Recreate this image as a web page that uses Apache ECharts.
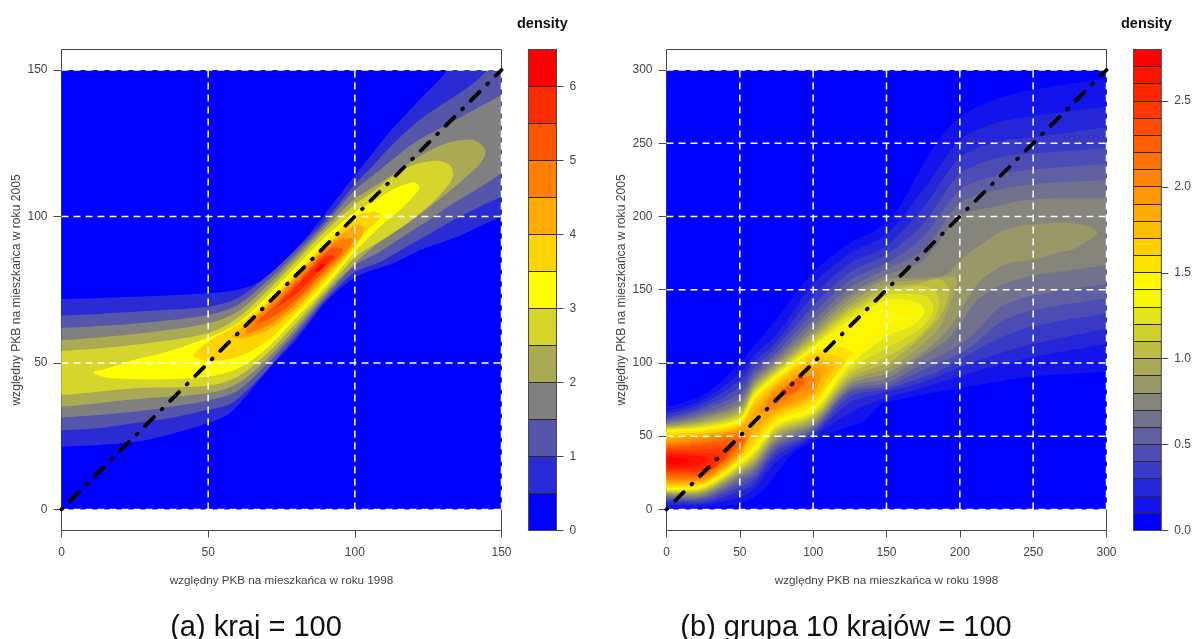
<!DOCTYPE html>
<html lang="pl">
<head>
<meta charset="UTF-8">
<title>density</title>
<style>html,body{margin:0;padding:0;background:#fff}#chart{width:1194px;height:639px}</style>
<script src="https://cdn.jsdelivr.net/npm/echarts@6/dist/echarts.min.js"></script>
</head>
<body>
<div id="chart"></div>
<script>
var xTitle = 'względny PKB na mieszkańca w roku 1998';
var yTitle = 'względny PKB na mieszkańca w roku 2005';
var ticksA = [0, 50, 100, 150];
var ticksB = [0, 50, 100, 150, 200, 250, 300];
var vLinesA = [50, 100, 150];
var hLinesA = [0, 50, 100, 150];
var vLinesB = [50, 100, 150, 200, 250, 300];
var hLinesB = [0, 50, 100, 150, 200, 250, 300];
var diagA = [[0, 0], [150, 150]];
var diagB = [[0, 0], [300, 300]];
var legendTicksA = [0, 1, 2, 3, 4, 5, 6];
var legendTicksB = [0, 0.5, 1, 1.5, 2, 2.5];
var legendMaxA = 6.5, legendMaxB = 2.8;
var stepA = 0.5, stepB = 0.1;

// density contours, levels 0.5, 1.0 ... 6.0 (data units, x = 1998, y = 2005)
var contoursA = [
  [[[-15,21.4],[0,21.4],[25,23],[36,25.4],[50,29.5],[57.5,33],[66.5,43],[73.4,51],[80,57.9],[84,63],[90,70.7],[100,79.2],[113,84],[123.4,89],[133.6,92.6],[142.7,96.7],[150,100],[165,105],[165,165],[139,165],[131.5,150],[122,139.8],[112,129],[104,119],[100,114],[92.6,104.5],[84.7,94.4],[75.5,84.5],[66.6,77.3],[58.6,74.7],[50,73.8],[25,72.6],[0,71.8],[-15,71.8]]],
  [[[-15,27],[0,27],[13,27.8],[25,29.5],[36,31],[50,34],[57.5,36],[63.7,41],[70,47.6],[80,59.2],[90,71.5],[100,81],[108.6,84.5],[117.7,89.7],[125.6,94.2],[133.6,98.8],[142.7,103.4],[150,106.8],[165,114],[165,165],[152,165],[145,150],[138,143.7],[123.4,134],[114.3,126],[106.3,117.5],[100,111],[90,98.8],[80,88.8],[70,79.5],[60,72.1],[50,69.2],[25,67.5],[0,66.2],[-15,66.2]]],
  [[[-15,31.4],[0,31.4],[25,33.4],[50,37.2],[60,40.5],[70,49.6],[80,60.6],[90,72.5],[100,83.3],[108.6,88],[117.7,94],[125.6,99],[133.6,104.5],[142.7,110],[150,114.7],[165,124],[165,150],[150,141.5],[142.7,137.5],[131.3,131.2],[120,125],[108.6,115.9],[100,109],[90,97.5],[80,87.4],[70,77.8],[60,69.8],[50,66.4],[25,63.5],[0,62],[-15,62]]],
  [[[-15,35.1],[0,35.1],[25,37.6],[50,39.7],[60,43],[70,51.3],[80,62],[90,73.6],[100,84],[106.3,89.6],[114.3,95.3],[123.4,101.6],[131.3,107.9],[138,113.6],[142.7,118],[144.6,122.1],[142.7,125],[139.3,126.3],[131.3,125],[123.4,121.3],[114.3,115.3],[106.3,110],[100,106],[90,96.3],[80,86.1],[70,76.1],[60,67.5],[50,63.5],[25,59.9],[0,57.8],[-15,57.8]]],
  [[[-15,39.1],[0,39.1],[25,41.4],[50,42.2],[60,45.3],[70,53.1],[80,63.6],[90,74.7],[100,86],[108.6,91.5],[117.7,97.5],[125.6,104],[131.3,110],[133.5,114],[132.5,117.5],[128,119],[120,117.6],[113.2,114],[106.3,108.5],[100,104],[90,95],[80,84.6],[70,74.4],[60,65.3],[50,60.1],[25,56.2],[0,54.1],[-15,54.1]]],
  [[[10.8,46.7],[15.4,45],[25,44.4],[36,44.4],[50,45.3],[60,48],[70,55],[80,65.3],[90,76],[100,88],[108.6,96.5],[115.4,102.2],[121,108],[122,110.2],[120,111.7],[113.2,109.3],[106.3,105],[100,101.5],[90,93.1],[80,82.9],[70,72.7],[60,63.5],[50,58.7],[36,53.8],[24.5,51],[15,48]]],
  [[[45,52.2],[50,50.7],[60,52],[70,57.3],[80,67.2],[90,77.8],[100,89.5],[104,95],[109.1,100],[106.8,101.7],[100,100],[90,90.6],[80,80.9],[70,70.6],[60,63],[50,57.3],[46,54]]],
  [[[58,59],[62,58.5],[70,61],[80,68.7],[90,79.3],[100,90.3],[103.4,96],[100,97],[90,89.7],[80,79.7],[70,69.8],[64,64.5],[60,60.5]]],
  [[[62.5,60.1],[70,62.5],[80,70.2],[90,80.6],[97,88],[99.5,92],[96,92.5],[90,88.8],[80,78.7],[70,68.7],[66,65]]],
  [[[66.5,63.6],[70,64.5],[80,71.5],[90,82],[96,88.6],[93,89.5],[90,87.8],[80,77.4],[72,69],[68,65.5]]],
  [[[72.8,68.7],[80,73.6],[90,83.5],[93.2,86.3],[90,86.5],[80,76.1],[75,71]]],
  [[[86.4,81.2],[88,81.5],[90.1,83.7],[88.5,83.8],[87,82.5]]]
];

// density contours, levels 0.1, 0.2 ... 2.7
var contoursB = [
  [[[-20,1],[0,1],[25,1.5],[51,4.2],[66,13.3],[77,27],[86,38],[100,46.7],[118,54],[136,61],[145.6,71.3],[168,77],[200,82.7],[250,90.7],[300,94],[320,96],[320,296],[300,294],[259,288],[230,282],[200,268],[184,250],[173,232],[159,207],[145,192],[125,182],[100,162],[90,150],[75,130],[60,112],[50,100],[38,88],[25,78],[14,74],[0,70],[-20,70]]],
  [[[-20,3],[0,3],[25,3.1],[50,8.3],[60,14.4],[75,32.6],[100,49.2],[125,66],[150,76],[175,83],[200,91],[225,98],[250,104],[300,113],[320,116],[320,278],[300,275],[250,268.5],[225,264],[200,252],[175,218],[150,188],[125,174.6],[100,154],[75,119],[60,105.4],[50,93],[25,75],[0,67],[-20,67]]],
  [[[-20,4.5],[0,4.5],[25,4.4],[50,12.2],[60,17.9],[75,36.5],[100,50.8],[125,73],[150,80.2],[175,87],[200,97],[225,106],[250,113],[300,123.4],[320,127],[320,264],[300,261],[250,254],[225,251],[200,240],[175,206],[150,180],[125,168],[100,146],[75,114.5],[60,100.9],[50,88.4],[25,72.5],[0,65],[-20,65]]],
  [[[-20,6],[0,6],[25,5.8],[50,15.1],[60,20.8],[75,39.5],[100,52.4],[125,77],[150,82],[165,87],[185,94],[205,105],[225,116],[250,125],[300,133.7],[320,137],[320,250],[300,247],[250,243],[225,240],[200,229],[175,195],[150,174],[125,162],[100,139],[75,110.7],[60,97],[50,83.8],[25,70],[0,63],[-20,63]]],
  [[[-20,7],[0,7],[25,7.2],[50,17.9],[60,23.5],[75,42],[100,54],[125,80.2],[150,84],[170,93],[193,103],[210,113],[228,128],[250,136],[300,144],[320,147],[320,238],[300,236],[250,232],[225,228],[200,218],[175,186],[150,168],[125,156.5],[100,133.7],[75,107],[60,94],[50,79.3],[25,67.9],[0,61.5],[-20,61.5]]],
  [[[-20,8],[0,8],[25,8.3],[50,20.1],[60,26],[75,44.2],[100,55.6],[125,81.8],[150,86.3],[171,97.3],[193.6,108.6],[209.5,120],[227.7,138],[250.5,146],[300,154],[320,157],[320,227],[300,225],[250,222],[225,218],[200,209],[175,177],[150,164],[125,151.4],[100,129],[75,104.3],[60,91],[50,75.9],[25,65.6],[0,60],[-20,60]]],
  [[[-20,9],[0,9],[25,9.4],[50,22],[60,28.1],[75,46.3],[100,57.2],[125,83.6],[150,89.3],[175.4,105.2],[191,115.5],[200.4,126.9],[205,133.7],[212,143],[228,153],[250.5,160],[273,163],[300,166.7],[320,169],[320,214],[300,213],[250,211.7],[225,207],[200,200],[175,170],[150,160],[125,147],[100,125],[75,102],[60,88.8],[50,72.9],[25,63.8],[0,59],[-20,59]]],
  [[[-20,10],[0,10],[25,10.6],[50,23.8],[60,30.1],[75,48.3],[100,58.8],[125,85.4],[150,92.7],[168.5,103],[182,113],[191.3,122.3],[198,131.4],[203,140],[212,154],[218.6,160],[232,167.8],[250.5,170.6],[268.7,175.8],[275.6,177],[284.7,181.5],[293.8,189.4],[280,195],[250.5,194.7],[230,190.6],[212,179],[200,170],[191,160.5],[175,158],[150,157],[125,144],[100,121.8],[75,99.8],[60,86.8],[50,70.6],[25,62.2],[0,58],[-20,58]]],
  [[[-20,10.7],[0,10.7],[25,11.5],[50,25.4],[60,32],[75,50.2],[100,60.4],[125,87.5],[150,96],[164,104],[175,113],[186,124],[192,137],[196,148],[198,157],[193,159],[180,157],[150,154],[125,140.5],[100,119],[75,97.9],[60,85],[50,68.4],[25,60.6],[0,57],[-20,57]]],
  [[[-20,11.3],[0,11.3],[25,12.4],[50,26.7],[60,33.8],[75,52],[100,62],[125,89.8],[150,99.5],[160,106],[172,116],[182,126],[189,136],[192.5,148],[190,155],[184,157.5],[172,154],[150,151],[125,137.8],[100,117],[75,96.3],[60,83.4],[50,66.5],[25,59.3],[0,56.2],[-20,56.2]]],
  [[[-20,12],[0,12],[25,13.3],[50,28],[60,35.6],[75,53.8],[100,63.6],[125,92.3],[150,104],[165,113],[176,122],[183,131],[186,141],[183,149],[175,152.5],[160,151],[150,149],[125,135.3],[100,115],[75,94.7],[60,81.8],[50,65],[25,58.1],[0,55.5],[-20,55.5]]],
  [[[-20,12.6],[0,12.6],[25,14.2],[50,29.5],[60,37.4],[75,55.6],[100,65.2],[125,95],[150,109.8],[165,118],[175,125],[181,133],[181.5,140],[177,145.5],[168,147],[150,146],[125,132.5],[100,113],[75,93.4],[60,80.2],[50,63.3],[25,57],[0,55],[-20,55]]],
  [[[-20,13.3],[0,13.3],[25,15.1],[50,30.8],[60,39.5],[75,57.2],[100,67],[125,98],[150,117.8],[165,124],[172,129],[176,135],[173,140],[165,142.8],[150,143],[125,129.6],[100,111.4],[75,92],[60,78.8],[50,62],[25,56],[0,54.3],[-20,54.3]]],
  [[[-20,14],[0,14],[25,16],[50,32],[60,41.3],[75,58.8],[100,68.8],[125,101.8],[150,124],[160,128],[167,132],[168,136],[162,138.5],[150,138],[125,126.4],[100,109.8],[75,90.6],[60,77.5],[50,60.6],[25,55.2],[0,53.6],[-20,53.6]]],
  [[[-20,14.7],[0,14.7],[25,16.7],[50,33],[60,43.5],[75,60.6],[100,71],[115,93],[125,104],[128,106],[120,111],[100,108],[75,89.3],[60,75.9],[50,59.5],[25,54.3],[0,53],[-20,53]]],
  [[[-20,15.7],[0,15.7],[25,17.6],[50,34.5],[60,46.3],[75,62.4],[100,73.6],[110,85],[115,91],[122,102],[112,106],[100,105.5],[75,87.7],[60,74],[50,58.1],[25,53.1],[0,51.5],[-20,51.5]]],
  [[[-20,16.8],[0,16.8],[25,18.5],[50,35.8],[60,49.7],[75,64.5],[100,75.9],[110,90],[115,99],[108,102],[100,103],[75,86],[60,71.5],[50,57],[25,52],[0,50],[-20,50]]],
  [[[-20,18],[0,18],[25,19.4],[50,37],[60,54.3],[75,66.5],[100,78.1],[105,88],[110,96],[100,99],[75,84.3],[60,67.9],[50,55.6],[25,50.8],[0,48.5],[-20,48.5]]],
  [[[-20,19],[0,19],[25,20.4],[50,38.3],[57,54],[50,54.3],[25,49.7],[0,47],[-20,47]], [[64,66],[75,68.4],[100,80.4],[105,93],[100,96],[75,82.5],[68,74]]],
  [[[-20,20],[0,20],[25,21.3],[50,39.7],[55,50],[50,52.7],[25,48.1],[0,45.5],[-20,45.5]], [[68,68],[75,70.6],[90,80],[100,82.7],[102,88],[100,92],[90,87],[75,80.2],[70,74]]],
  [[[-20,21.5],[0,21.5],[25,22.4],[50,41.5],[54,47],[50,50.8],[25,46.7],[0,44.3],[-20,44.3]], [[72,73],[75,72.9],[88,80],[96,87],[88,88],[75,77.5]]],
  [[[-20,23],[0,23],[25,23.5],[50,43.3],[53,46],[50,48.6],[25,45.2],[0,43],[-20,43]], [[80,78],[90,82],[95,90],[90,90],[82,84]]],
  [[[-20,24.5],[0,24.5],[25,24.7],[40,37],[48,44],[40,44],[25,43.3],[0,41.8],[-20,41.8]]],
  [[[-20,26],[0,26],[25,25.8],[35,30],[44,41],[40,41.5],[25,41],[0,40.5],[-20,40.5]]],
  [[[-20,27],[0,27],[25,27],[30,29],[36,37],[25,38.3],[0,39],[-20,39]]],
  [[[-20,28.5],[0,28.5],[20,29.5],[28,33.5],[25,36],[15,37],[0,37.5],[-20,37.5]]],
  [[[-20,31],[0,31],[10,31],[17,33],[10,35],[0,35.5],[-20,35.5]]]
];

// blue - gray - yellow - orange - red, same ramp as the colour key
function ramp(n) {
  var stops = [[0, 0, 255], [128, 128, 128], [255, 255, 0], [255, 128, 0], [255, 0, 0]];
  var out = [];
  for (var i = 0; i < n; i++) {
    var t = i / (n - 1) * 4, k = Math.min(Math.floor(t), 3), f = t - k;
    var c = [0, 1, 2].map(function (j) {
      return Math.round(stops[k][j] + (stops[k + 1][j] - stops[k][j]) * f);
    });
    out.push('rgb(' + c.join(',') + ')');
  }
  return out;
}

var textColor = '#444';
var boxColor = '#4a4a4a';
var grids = [], xAxes = [], yAxes = [], series = [];

function snap(v) { return Math.round(v - 0.5) + 0.5; }

function addPanel(left, legendLeft, xMax, yLow, yHigh, ticks, vLines, hLines, diag, contours, legendTicks, legendMax, step, legendFmt) {
  var colors = ramp(contours.length + 1);
  var g = grids.length;
  grids.push({left: left, top: 49.5, width: 440, height: 481, show: true, borderColor: boxColor, borderWidth: 1, backgroundColor: 'transparent'});
  xAxes.push({
    gridIndex: g, type: 'value', min: 0, max: xMax, interval: 50,
    name: xTitle, nameLocation: 'middle', nameGap: 44,
    nameTextStyle: {fontFamily: 'Liberation Sans', fontSize: 11.7, color: textColor},
    axisLine: {show: false, onZero: false}, splitLine: {show: false},
    axisTick: {length: 7, lineStyle: {color: boxColor}},
    axisLabel: {fontFamily: 'Liberation Sans', fontSize: 12, color: textColor, margin: 16, hideOverlap: false}
  });
  yAxes.push({
    gridIndex: g, type: 'value', min: yLow, max: yHigh,
    name: yTitle, nameLocation: 'middle', nameGap: 39, nameRotate: 90,
    nameTextStyle: {fontFamily: 'Liberation Sans', fontSize: 12.1, color: textColor},
    axisLine: {show: false, onZero: false}, splitLine: {show: false},
    axisTick: {length: 8, customValues: ticks, lineStyle: {color: boxColor}},
    axisLabel: {fontFamily: 'Liberation Sans', fontSize: 12, color: textColor, margin: 14, customValues: ticks}
  });

  // one row per ring; row 0 is the blue base of the image area
  var rings = [{band: 0, pts: null}];
  contours.forEach(function (level, i) {
    level.forEach(function (r) { rings.push({band: i + 1, pts: r}); });
  });
  series.push({
    type: 'custom', xAxisIndex: g, yAxisIndex: g, silent: true, z: 2, clip: false,
    data: rings.map(function (r, i) { return [i, 0]; }),
    encode: {x: -1, y: -1},
    renderItem: function (params, api) {
      var r = rings[api.value(0)];
      var tl = api.coord([0, xMax]), br = api.coord([xMax, 0]);
      if (!r.pts) {
        return {type: 'rect', shape: {x: tl[0], y: tl[1], width: br[0] - tl[0], height: br[1] - tl[1]}, style: {fill: colors[0]}};
      }
      return {
        type: 'polygon',
        shape: {points: r.pts.map(function (p) { return api.coord(p); }), smooth: 0.3},
        style: {fill: colors[r.band]},
        clipPath: {type: 'rect', shape: {x: tl[0], y: tl[1], width: br[0] - tl[0], height: br[1] - tl[1]}}
      };
    }
  });

  // white dashed guide lines and the black 45 degree line on top
  vLines.forEach(function (v) {
    series.push({type: 'line', xAxisIndex: g, yAxisIndex: g, silent: true, z: 3, clip: false, showSymbol: false, data: [[v, 0], [v, xMax]], lineStyle: {color: '#fff', width: 1.5, type: [7, 5]}});
  });
  hLines.forEach(function (h) {
    series.push({type: 'line', xAxisIndex: g, yAxisIndex: g, silent: true, z: 3, clip: false, showSymbol: false, data: [[0, h], [xMax, h]], lineStyle: {color: '#fff', width: 1.5, type: [7, 5]}});
  });
  series.push({type: 'line', xAxisIndex: g, yAxisIndex: g, silent: true, z: 4, clip: false, showSymbol: false, data: diag, lineStyle: {color: '#000', width: 3.8, cap: 'round', type: [1, 11, 12.4, 11]}});

  // colour key, fill first and a dark rule on both edges of every band
  var k = grids.length;
  grids.push({left: legendLeft, top: 49.5, width: 28, height: 481, show: true, borderColor: boxColor, borderWidth: 1, backgroundColor: 'transparent', z: 5});
  xAxes.push({gridIndex: k, type: 'value', min: 0, max: 1, show: false});
  yAxes.push({
    gridIndex: k, type: 'value', position: 'right', min: 0, max: legendMax,
    axisLine: {show: false, onZero: false}, splitLine: {show: false},
    axisTick: {length: 7, customValues: legendTicks, lineStyle: {color: boxColor}},
    axisLabel: {fontFamily: 'Liberation Sans', fontSize: 12, color: textColor, margin: 13, customValues: legendTicks, formatter: legendFmt}
  });
  series.push({
    type: 'custom', xAxisIndex: k, yAxisIndex: k, silent: true, z: 2, clip: false,
    data: colors.map(function (c, i) { return [i, 0]; }),
    encode: {x: -1, y: -1},
    renderItem: function (params, api) {
      var i = api.value(0);
      var a = api.coord([0, Math.min(step * (i + 1), legendMax)]), b = api.coord([1, step * i]);
      var top = snap(a[1]), bot = snap(b[1]);
      return {type: 'group', children: [
        {type: 'rect', shape: {x: a[0], y: top, width: b[0] - a[0], height: bot - top}, style: {fill: colors[i]}, z2: 1},
        {type: 'line', shape: {x1: a[0], y1: top, x2: b[0], y2: top}, style: {stroke: '#2a2a2a', lineWidth: 1}, z2: 5},
        {type: 'line', shape: {x1: a[0], y1: bot, x2: b[0], y2: bot}, style: {stroke: '#2a2a2a', lineWidth: 1}, z2: 5}
      ]};
    }
  });
}

addPanel(61.5, 528.5, 150, -7.2, 157, ticksA, vLinesA, hLinesA, diagA, contoursA, legendTicksA, legendMaxA, stepA, function (v) { return String(v); });
addPanel(666.5, 1133.5, 300, -14.4, 314, ticksB, vLinesB, hLinesB, diagB, contoursB, legendTicksB, legendMaxB, stepB, function (v) { return v.toFixed(1); });

var chart = echarts.init(document.getElementById('chart'), null, {renderer: 'canvas'});
chart.setOption({
  animation: false,
  backgroundColor: '#fff',
  title: [
    {text: 'density', left: 512, top: 11, textStyle: {fontFamily: 'Liberation Sans', fontSize: 14.5, fontWeight: 'bold', color: '#111'}},
    {text: 'density', left: 1116, top: 11, textStyle: {fontFamily: 'Liberation Sans', fontSize: 14.5, fontWeight: 'bold', color: '#111'}},
    {text: '(a) kraj = 100', left: 251, top: 608, textAlign: 'center', textStyle: {fontFamily: 'Liberation Sans', fontSize: 29, fontWeight: 'normal', color: '#111'}},
    {text: '(b) grupa 10 krajów = 100', left: 841, top: 608, textAlign: 'center', textStyle: {fontFamily: 'Liberation Sans', fontSize: 29, fontWeight: 'normal', color: '#111'}}
  ],
  grid: grids,
  xAxis: xAxes,
  yAxis: yAxes,
  series: series
});
</script>
</body>
</html>
